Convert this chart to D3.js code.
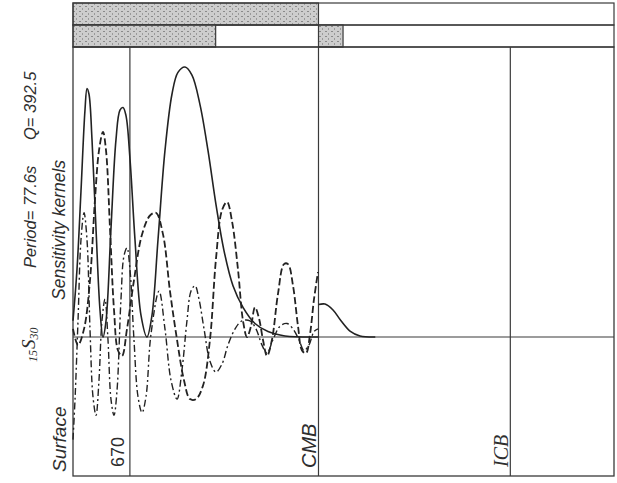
<!DOCTYPE html>
<meta charset="utf-8">
<head>
    <script src="https://cdn.jsdelivr.net/npm/d3@7/dist/d3.min.js"></script>
    <style>
        body { margin: 0; background: #fff; }
        text { fill: #2e2e2e; }
    </style>
</head>
<body>
<div id="chart"></div>
<script>
    // depth (km) / kernel value pairs
    let solidMantle = [
        [0, 0.06], [47, 0.25], [94, 0.54], [141, 0.84], [165, 0.92], [188, 0.90], [224, 0.73],
        [271, 0.40], [318, 0.10], [353, 0], [389, 0.06], [447, 0.40], [506, 0.73], [553, 0.84],
        [589, 0.85], [624, 0.82], [671, 0.66], [730, 0.36], [801, 0.08], [871, 0], [930, 0.08],
        [1001, 0.36], [1083, 0.69], [1166, 0.90], [1236, 0.98], [1319, 1.0], [1401, 0.97],
        [1496, 0.86], [1590, 0.69], [1684, 0.49], [1778, 0.32], [1884, 0.19], [2002, 0.11],
        [2143, 0.05], [2296, 0.02], [2496, 0.004], [2891, 0]
    ];
    let solidCore = [
        [2891, 0.12], [2968, 0.122], [3062, 0.10], [3156, 0.06], [3262, 0.022], [3380, 0.004], [3560, 0]
    ];
    let dashed = [
        [0, 0.03], [59, -0.03], [130, 0.03], [200, 0.21], [259, 0.51], [306, 0.69], [353, 0.76],
        [389, 0.69], [436, 0.40], [483, 0.10], [530, -0.05], [577, -0.07], [636, 0.03], [718, 0.21],
        [813, 0.38], [907, 0.45], [977, 0.46], [1060, 0.38], [1142, 0.17], [1225, -0.01],
        [1307, -0.16], [1378, -0.23], [1448, -0.23], [1531, -0.18], [1613, -0.01], [1684, 0.29],
        [1755, 0.47], [1814, 0.50], [1872, 0.43], [1943, 0.25], [2002, 0.06], [2049, 0],
        [2096, 0.04], [2143, 0.11], [2190, 0.07], [2237, -0.01], [2285, -0.07], [2343, -0.01],
        [2414, 0.16], [2485, 0.27], [2532, 0.27], [2591, 0.19], [2650, 0.04], [2697, -0.05],
        [2744, -0.06], [2791, 0.01], [2838, 0.14], [2885, 0.24]
    ];
    let dashDot = [
        [0, -0.38], [24, -0.23], [59, 0.06], [94, 0.36], [130, 0.46], [165, 0.36], [200, 0.03],
        [235, -0.22], [271, -0.29], [306, -0.16], [341, 0.06], [377, 0.14], [412, -0.01],
        [447, -0.23], [483, -0.29], [518, -0.20], [565, 0.14], [600, 0.30], [636, 0.33],
        [671, 0.25], [718, -0.01], [765, -0.22], [813, -0.28], [860, -0.22], [918, 0.01],
        [1013, 0.17], [1083, 0.03], [1154, -0.16], [1225, -0.23], [1284, -0.12], [1342, 0.06],
        [1390, 0.17], [1437, 0.19], [1484, 0.14], [1543, 0.03], [1613, -0.09], [1684, -0.13],
        [1755, -0.10], [1825, -0.03], [1908, 0.03], [1990, 0.06], [2084, 0.06], [2155, 0.03],
        [2226, -0.03], [2285, -0.06], [2355, -0.01], [2438, 0.04], [2520, 0.05], [2591, 0.03],
        [2661, -0.01], [2720, -0.05], [2779, -0.03], [2838, 0.02], [2885, 0.03]
    ];

    // boundaries (depth km) and their labels
    let boundaries = [0, 670, 2891, 5150];
    let boundaryLabels = ["Surface", "670", "CMB", "ICB"];

    // shaded ranges in the two top bars (depth km)
    let barRow1 = [[0, 2891]];
    let barRow2 = [[0, 1680], [2891, 3180]];

    let width = 617, height = 483;
    let left = 73, right = 614, plotTop = 47, plotBottom = 476;

    let svg = d3.select("#chart").append("svg")
        .attr("width", width)
        .attr("height", height);

    let x = d3.scaleLinear().domain([0, 6371]).range([left, right]);
    let y = d3.scaleLinear().domain([0, 1]).range([337, 67]);

    // speckled grey fill for the bars
    let defs = svg.append("defs");
    let pat = defs.append("pattern")
        .attr("id", "speck")
        .attr("width", 6).attr("height", 5)
        .attr("patternUnits", "userSpaceOnUse");
    pat.append("rect").attr("width", 6).attr("height", 5).attr("fill", "#cdcdcd");
    pat.append("rect").attr("x", 1).attr("y", 1).attr("width", 2).attr("height", 1).attr("fill", "#8a8a8a");
    pat.append("rect").attr("x", 4).attr("y", 3).attr("width", 1).attr("height", 2).attr("fill", "#9a9a9a");

    let frame = "#3a3a3a";

    // top bars
    let rows = [[3, 25, barRow1], [25, 47, barRow2]];
    rows.forEach(function (r) {
        r[2].forEach(function (b) {
            svg.append("rect")
                .attr("x", x(b[0])).attr("y", r[0])
                .attr("width", x(b[1]) - x(b[0])).attr("height", r[1] - r[0])
                .attr("fill", "url(#speck)")
                .attr("stroke", frame).attr("stroke-width", 1.2);
        });
        svg.append("rect")
            .attr("x", left).attr("y", r[0])
            .attr("width", right - left).attr("height", r[1] - r[0])
            .attr("fill", "none")
            .attr("stroke", frame).attr("stroke-width", 1.2);
    });

    // main frame
    svg.append("rect")
        .attr("x", left).attr("y", plotTop)
        .attr("width", right - left).attr("height", plotBottom - plotTop)
        .attr("fill", "none").attr("stroke", frame).attr("stroke-width", 1.3);

    boundaries.slice(1).forEach(function (d) {
        svg.append("line")
            .attr("x1", x(d)).attr("x2", x(d))
            .attr("y1", plotTop).attr("y2", plotBottom)
            .attr("stroke", frame).attr("stroke-width", 1.2);
    });

    svg.append("line")
        .attr("x1", left).attr("x2", right)
        .attr("y1", y(0)).attr("y2", y(0))
        .attr("stroke", frame).attr("stroke-width", 1.2);

    // kernels
    let line = d3.line()
        .x(function (d) { return x(d[0]); })
        .y(function (d) { return y(d[1]); })
        .curve(d3.curveCatmullRom.alpha(0.5));

    let series = [
        [dashDot, "7,3,2,3", 1.4],
        [dashed, "7,3", 1.8],
        [solidMantle, null, 1.6],
        [solidCore, null, 1.6]
    ];
    series.forEach(function (s) {
        svg.append("path")
            .attr("d", line(s[0]))
            .attr("fill", "none")
            .attr("stroke", "#222")
            .attr("stroke-width", s[2])
            .attr("stroke-dasharray", s[1]);
    });

    // rotated labels
    function vtext(bx, by, str, size, family, style) {
        return svg.append("text")
            .attr("transform", "translate(" + bx + "," + by + ") rotate(-90)")
            .attr("font-family", family)
            .attr("font-style", style)
            .attr("font-size", size)
            .text(str);
    }

    let sans = "'Liberation Sans', Arial, sans-serif";
    let serif = "'Liberation Serif', 'DejaVu Serif', serif";

    let labelPos = [[66, 472, 19, sans, "italic"], [124, 467, 18, sans, "normal"],
                    [316, 468, 20, sans, "italic"], [508, 467, 20, serif, "italic"]];
    boundaryLabels.forEach(function (lab, i) {
        let p = labelPos[i];
        vtext(p[0], p[1], lab, p[2], p[3], p[4]);
    });

    vtext(65, 300, "Sensitivity kernels", 17.5, sans, "italic");
    vtext(36, 268, "Period= 77.6s", 16.5, sans, "italic");
    vtext(36, 140, "Q= 392.5", 16.5, sans, "italic");

    let mode = svg.append("text")
        .attr("transform", "translate(35,362) rotate(-90)")
        .attr("font-family", serif)
        .attr("font-style", "italic");
    mode.append("tspan").attr("font-size", 12).attr("dy", 2).text("15");
    mode.append("tspan").attr("font-size", 19).attr("dx", 1).attr("dy", -2).text("S");
    mode.append("tspan").attr("font-size", 12).attr("dy", 3).text("30");
</script>
</body>
</html>
